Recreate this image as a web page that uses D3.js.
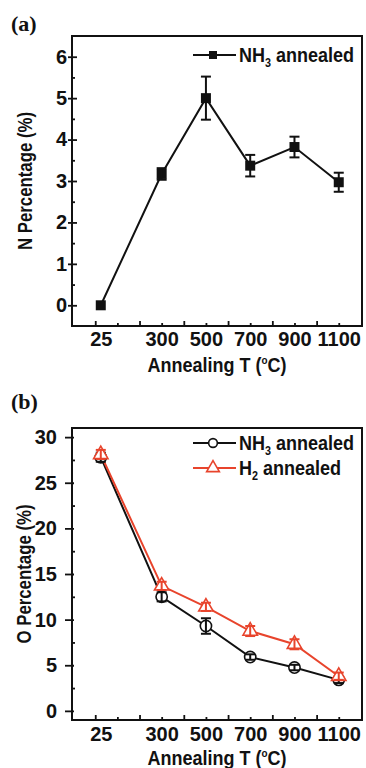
<!DOCTYPE html>
<html>
<head>
<meta charset="utf-8">
<script src="https://cdn.jsdelivr.net/npm/d3@7"></script>
<style>
  body { margin: 0; background: #fff; }
  svg { display: block; }
  .tick text { font: bold 20px "Liberation Sans", Arial, sans-serif; fill: #111; }
  .tick line { stroke: #111; stroke-width: 1.8; }
  .lbl { font-family: "Liberation Sans", Arial, sans-serif; font-weight: bold; fill: #111; }
</style>
</head>
<body>
<script>
// values
var temps = [25, 300, 500, 700, 900, 1100];
var xTickLabels = ["25", "300", "500", "700", "900", "1100"];

var nNH3 = [0, 3.17, 5.0, 3.37, 3.82, 2.97];
var nNH3Err = [0, 0.14, 0.52, 0.26, 0.25, 0.23];

var oNH3 = [27.8, 12.5, 9.3, 5.9, 4.75, 3.4];
var oNH3Err = [0.5, 0.5, 0.85, 0.3, 0.3, 0.35];
var oH2 = [28.1, 13.7, 11.4, 8.75, 7.3, 3.8];
var oH2Err = [0.5, 0.45, 0.45, 0.55, 0.55, 0.4];

var nTicks = [0, 1, 2, 3, 4, 5, 6];
var nMinor = [0.5, 1.5, 2.5, 3.5, 4.5, 5.5];
var oTicks = [0, 5, 10, 15, 20, 25, 30];
var oMinor = [2.5, 7.5, 12.5, 17.5, 22.5, 27.5];

var RED = "#e8442c";

var svg = d3.select("body").append("svg").attr("width", 366).attr("height", 768);
var x = d3.scaleLinear().domain([-105, 1205]).range([72, 362]);

// text with NH3 / H2 style subscripts or a superscript part
function richText(g, px, py, parts, size, sx, rot) {
    var t = g.append("text").attr("class", "lbl")
        .attr("font-size", size)
        .attr("transform", "translate(" + px + "," + py + ")" + (rot ? " rotate(" + rot + ")" : "") + " scale(" + sx + ",1)");
    parts.forEach(function (p) {
        t.append("tspan").text(p.t)
            .attr("font-size", p.s || size)
            .attr("dy", p.dy || 0);
    });
    return t;
}

function drawPanel(o) {
    var g = svg.append("g");
    var y = d3.scaleLinear().domain(o.yDomain).range([o.bottom, o.top]);

    // x ticks point inward, long every 200, short in between
    g.append("g").attr("transform", "translate(0," + o.bottom + ")")
        .call(d3.axisBottom(x).tickValues(d3.range(0, 1101, 200)).tickSize(-5).tickFormat(""));
    g.append("g").attr("transform", "translate(0," + o.bottom + ")")
        .call(d3.axisBottom(x).tickValues(d3.range(100, 1101, 200)).tickSize(-3).tickFormat(""));
    g.append("g").attr("transform", "translate(0," + o.bottom + ")")
        .call(d3.axisBottom(x).tickValues(temps).tickSize(0).tickPadding(o.xPad)
            .tickFormat(function (d, i) { return xTickLabels[i]; }));

    // y ticks
    g.append("g").attr("transform", "translate(72,0)")
        .call(d3.axisLeft(y).tickValues(o.yTicks).tickSize(o.tickOut).tickPadding(o.yPad)
            .tickFormat(d3.format("d")));
    g.append("g").attr("transform", "translate(72,0)")
        .call(d3.axisLeft(y).tickValues(o.yTicks).tickSize(-o.tickIn).tickFormat(""));
    g.append("g").attr("transform", "translate(72,0)")
        .call(d3.axisLeft(y).tickValues(o.yMinor).tickSize(-3).tickFormat(""));
    g.selectAll(".domain").remove();

    g.append("rect")
        .attr("x", x.range()[0]).attr("y", o.top)
        .attr("width", x.range()[1] - x.range()[0]).attr("height", o.bottom - o.top)
        .attr("fill", "none").attr("stroke", "#111").attr("stroke-width", 2);

    // lines first, then markers, error bars on top
    o.series.forEach(function (s) {
        var pts = temps.map(function (t, i) { return [t, s.vals[i], s.errs[i]]; });
        g.append("path").datum(pts)
            .attr("fill", "none").attr("stroke", s.color).attr("stroke-width", 2)
            .attr("d", d3.line().x(function (d) { return x(d[0]); }).y(function (d) { return y(d[1]); }));
    });
    o.series.forEach(function (s) {
        var pts = temps.map(function (t, i) { return [t, s.vals[i], s.errs[i]]; });
        g.append("g").selectAll("path").data(pts).enter().append("path")
            .attr("transform", function (d) { return "translate(" + x(d[0]) + "," + y(d[1]) + ")"; })
            .attr("d", s.symbol)
            .attr("fill", s.fill).attr("stroke", s.color).attr("stroke-width", s.sw);
        var eb = g.append("g").selectAll("g").data(pts.filter(function (d) { return d[2] > 0; }))
            .enter().append("g").attr("stroke", s.color).attr("stroke-width", 2);
        eb.append("line")
            .attr("x1", function (d) { return x(d[0]); }).attr("x2", function (d) { return x(d[0]); })
            .attr("y1", function (d) { return y(d[1] - d[2]); }).attr("y2", function (d) { return y(d[1] + d[2]); });
        [-1, 1].forEach(function (k) {
            eb.append("line")
                .attr("x1", function (d) { return x(d[0]) - 5; }).attr("x2", function (d) { return x(d[0]) + 5; })
                .attr("y1", function (d) { return y(d[1] + k * d[2]); }).attr("y2", function (d) { return y(d[1] + k * d[2]); });
        });
    });

    // legend
    o.series.forEach(function (s, i) {
        var ly = o.legY + i * 25;
        g.append("line").attr("x1", 193).attr("x2", 236).attr("y1", ly).attr("y2", ly)
            .attr("stroke", s.color).attr("stroke-width", 2);
        g.append("path").attr("transform", "translate(213," + ly + ")")
            .attr("d", s.legSymbol || s.symbol)
            .attr("fill", s.fill).attr("stroke", s.color).attr("stroke-width", s.sw);
        richText(g, 239, ly + 7, [
            { t: s.name[0] },
            { t: s.name[1], s: 12, dy: 5 },
            { t: " annealed", dy: -5 }
        ], 20, 0.9);
    });

    // titles
    richText(g, 217, o.titleY, [
        { t: "Annealing T (" },
        { t: "o", s: 11, dy: -8 },
        { t: "C)", dy: 8 }
    ], 20, 0.9).attr("text-anchor", "middle");
    richText(g, o.yTitleX, (o.top + o.bottom) / 2, [{ t: o.yTitle }], 20, 0.84, -90)
        .attr("text-anchor", "middle");
    g.append("text").attr("x", 11).attr("y", o.tagY)
        .attr("font-family", "'Liberation Serif', 'Times New Roman', serif")
        .attr("font-weight", "bold").attr("font-size", 22).attr("fill", "#111")
        .text(o.tag);
}

var sq = d3.symbol().type(d3.symbolSquare).size(100)();
var sqLeg = d3.symbol().type(d3.symbolSquare).size(64)();
var circ = d3.symbol().type(d3.symbolCircle).size(100)();
var circLeg = d3.symbol().type(d3.symbolCircle).size(60)();
var tri = d3.symbol().type(d3.symbolTriangle).size(90)();
var triLeg = d3.symbol().type(d3.symbolTriangle).size(70)();

drawPanel({
    tag: "(a)", tagY: 31,
    top: 36, bottom: 326, yDomain: [-0.5, 6.5],
    yTicks: nTicks, yMinor: nMinor, tickOut: 4, tickIn: 5, yPad: 1, xPad: 6,
    titleY: 372, yTitle: "N Percentage (%)", yTitleX: 32, legY: 55,
    series: [
        { name: ["NH", "3"], vals: nNH3, errs: nNH3Err, color: "#111", fill: "#111", sw: 0,
          symbol: sq, legSymbol: sqLeg }
    ]
});

drawPanel({
    tag: "(b)", tagY: 409,
    top: 428, bottom: 720, yDomain: [-1, 31],
    yTicks: oTicks, yMinor: oMinor, tickOut: 7, tickIn: 2, yPad: 8, xPad: 7,
    titleY: 765, yTitle: "O Percentage (%)", yTitleX: 31, legY: 443,
    series: [
        { name: ["NH", "3"], vals: oNH3, errs: oNH3Err, color: "#111", fill: "#fff", sw: 1.6,
          symbol: circ, legSymbol: circLeg },
        { name: ["H", "2"], vals: oH2, errs: oH2Err, color: RED, fill: "#fff", sw: 1.6,
          symbol: tri, legSymbol: triLeg }
    ]
});
</script>
</body>
</html>
